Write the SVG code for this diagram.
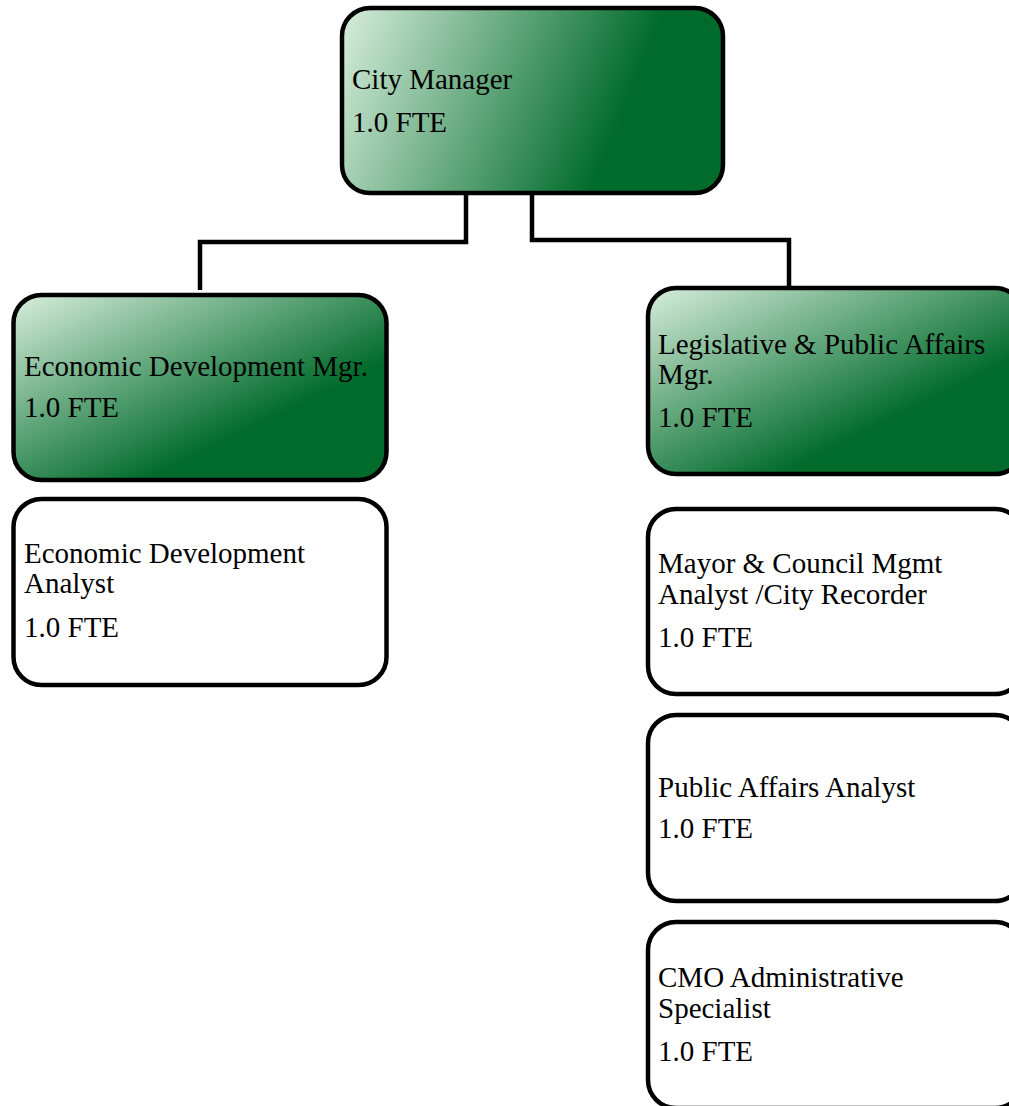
<svg xmlns="http://www.w3.org/2000/svg" width="1009" height="1106" viewBox="0 0 1009 1106">
<style>
.box{stroke:#000;stroke-width:4.5}
.g{fill:url(#grad)}
.w{fill:#fff}
.t{font-family:"Liberation Serif","Times New Roman",serif;font-size:29px;fill:#000}
.conn{fill:none;stroke:#000;stroke-width:4.5;stroke-linejoin:miter}
</style>
<defs>
<linearGradient id="grad" x1="0" y1="0" x2="1" y2="1">
<stop offset="0" stop-color="#d8eedc"/>
<stop offset="0.68" stop-color="#006b2b"/>
<stop offset="1" stop-color="#006b2b"/>
</linearGradient>
<linearGradient id="gradTop" x1="0" y1="0" x2="1" y2="0.2">
<stop offset="0" stop-color="#d8eedc"/>
<stop offset="0.82" stop-color="#006b2b"/>
<stop offset="1" stop-color="#006b2b"/>
</linearGradient>
</defs>
<rect width="1009" height="1106" fill="#fff"/>
<g id="connectors">
<path class="conn" d="M466,195 V242 H200 V290"/>
<path class="conn" d="M532,195 V240 H789 V287"/>
</g>
<g id="city-manager">
<rect class="box" fill="url(#gradTop)" x="342" y="8" width="381" height="185" rx="28"/>
<text class="t" x="352" y="89">City Manager</text>
<text class="t" x="352" y="132">1.0 FTE</text>
</g>
<g id="econ-dev-mgr">
<rect class="box g" x="13.5" y="295" width="373" height="185" rx="28"/>
<text class="t" x="24" y="376">Economic Development Mgr.</text>
<text class="t" x="24" y="417">1.0 FTE</text>
</g>
<g id="econ-dev-analyst">
<rect class="box w" x="13.5" y="499" width="373" height="186" rx="28"/>
<text class="t" x="24" y="563">Economic Development</text>
<text class="t" x="24" y="593">Analyst</text>
<text class="t" x="24" y="637">1.0 FTE</text>
</g>
<g id="leg-public-affairs-mgr">
<rect class="box g" x="648" y="288" width="375" height="186" rx="28"/>
<text class="t" x="658" y="354">Legislative &amp; Public Affairs</text>
<text class="t" x="658" y="384">Mgr.</text>
<text class="t" x="658" y="427">1.0 FTE</text>
</g>
<g id="mayor-council-analyst">
<rect class="box w" x="648" y="509" width="375" height="185" rx="28"/>
<text class="t" x="658" y="573">Mayor &amp; Council Mgmt</text>
<text class="t" x="658" y="604">Analyst /City Recorder</text>
<text class="t" x="658" y="647">1.0 FTE</text>
</g>
<g id="public-affairs-analyst">
<rect class="box w" x="648" y="715" width="375" height="186" rx="28"/>
<text class="t" x="658" y="797">Public Affairs Analyst</text>
<text class="t" x="658" y="838">1.0 FTE</text>
</g>
<g id="cmo-admin-specialist">
<rect class="box w" x="648" y="922" width="375" height="186" rx="28"/>
<text class="t" x="658" y="987">CMO Administrative</text>
<text class="t" x="658" y="1018">Specialist</text>
<text class="t" x="658" y="1061">1.0 FTE</text>
</g>
</svg>
